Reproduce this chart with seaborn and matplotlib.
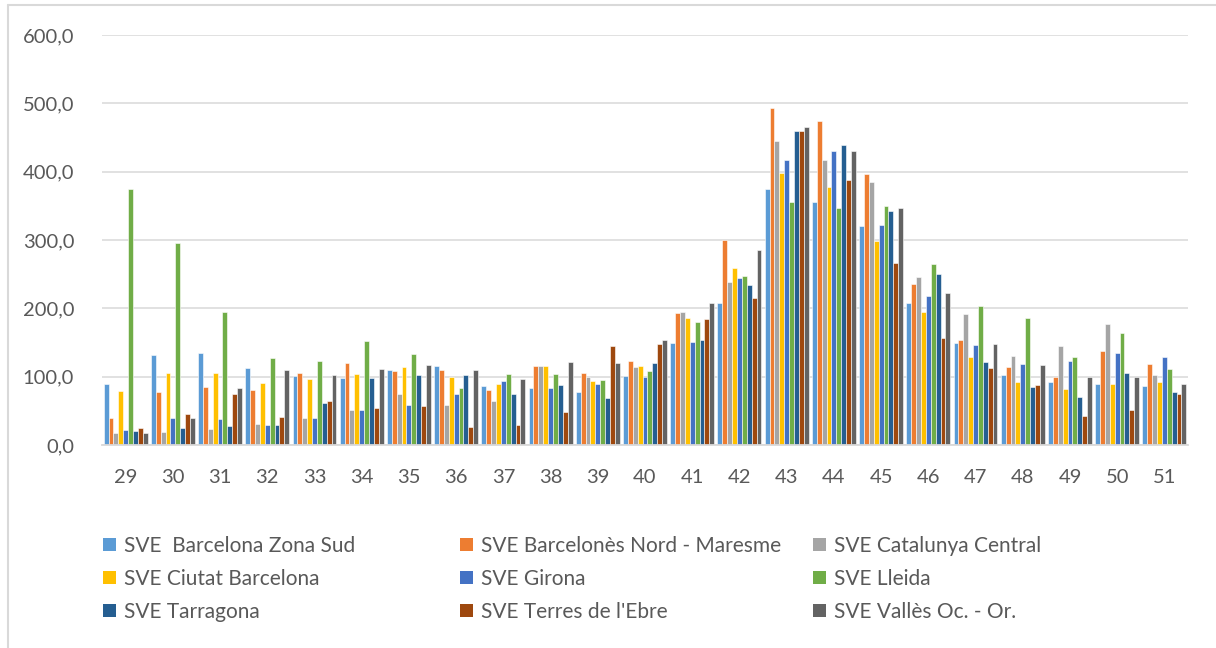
import matplotlib
matplotlib.use("Agg")
import matplotlib.pyplot as plt
import matplotlib.ticker as mticker
from matplotlib.patches import Patch
from matplotlib.lines import Line2D
import seaborn as sns
import pandas as pd

weeks = [29, 30, 31, 32, 33, 34, 35, 36, 37, 38, 39, 40, 41, 42, 43, 44, 45, 46, 47, 48, 49, 50, 51]

series_names = [
    "SVE  Barcelona Zona Sud",
    "SVE Barcelonès Nord - Maresme",
    "SVE Catalunya Central",
    "SVE Ciutat Barcelona",
    "SVE Girona",
    "SVE Lleida",
    "SVE Tarragona",
    "SVE Terres de l'Ebre",
    "SVE Vallès Oc. - Or.",
]

barcelona_zona_sud = [89, 131, 135, 113, 100.5, 98, 109.7, 115, 87, 84, 78, 101, 149, 208, 374, 356, 320, 208, 149, 103, 91.5, 88.6, 86.6]
barcelones_nord = [39.5, 77, 85, 80.5, 106, 119.5, 108, 110, 80.5, 116, 105, 123, 193, 300, 493, 474, 397, 236, 153, 114, 100, 137, 118]
catalunya_central = [18, 19, 24, 31, 39, 51, 74.6, 58.5, 64, 115, 100, 114, 195, 238, 445, 417.5, 385, 246, 191, 130, 145, 177.6, 102]
ciutat_barcelona = [78.5, 106, 106, 91, 96, 104, 114, 100, 90, 116, 93, 115.5, 186, 259, 398.5, 378, 299, 195, 128.5, 91.5, 82, 90, 91.5]
girona = [22.4, 39, 38, 30, 39.5, 51, 59, 74, 94, 84, 89, 100, 151, 245, 417.5, 430.7, 322.6, 217.5, 147, 118, 123.6, 134, 128.5]
lleida = [374.6, 295, 194.6, 128, 123.4, 152, 133.7, 83.4, 104, 104, 95, 108, 180, 248, 355, 347, 350, 265, 204, 186, 128.5, 163.5, 110.5]
tarragona = [20, 24.4, 28, 29, 62, 98, 102, 102, 75, 87.5, 69, 120, 153, 234, 459, 439, 343, 250, 122, 85, 70.6, 106, 78]
terres_ebre = [24.4, 46, 74, 41, 64, 54, 57.6, 26, 30, 49, 145, 147.5, 185, 215.5, 459, 388, 266, 157, 113, 87.6, 43, 50.6, 74.5]
valles = [18, 39, 83, 110, 102, 111, 117, 110, 97, 121, 120, 153, 208, 285.6, 465, 430, 347, 222, 148, 117, 100, 99, 90]

series_values = [barcelona_zona_sud, barcelones_nord, catalunya_central, ciutat_barcelona,
                 girona, lleida, tarragona, terres_ebre, valles]

colors = ["#5B9BD5", "#ED7D31", "#A5A5A5", "#FFC000", "#4472C4",
          "#70AD47", "#255E91", "#9E480E", "#636363"]

rows = []
for name, vals in zip(series_names, series_values):
    for w, v in zip(weeks, vals):
        rows.append({"week": str(w), "series": name, "value": v})
df = pd.DataFrame(rows)

sns.set_theme(style="white")
plt.rcParams["font.family"] = ["Lato", "DejaVu Sans"]
text_color = "#595959"

fig = plt.figure(figsize=(12.16, 6.48), dpi=100)
ax = fig.add_axes([102 / 1216, 1 - 445 / 648, (1188 - 102) / 1216, (445 - 35) / 648])

sns.barplot(data=df, x="week", y="value", hue="series", hue_order=series_names,
            order=[str(w) for w in weeks], palette=colors, width=0.93,
            saturation=1, edgecolor="white", linewidth=0.4, legend=False, ax=ax, errorbar=None)

ax.set_ylim(0, 600)
ax.set_yticks([0, 100, 200, 300, 400, 500, 600])
ax.yaxis.set_major_formatter(mticker.FuncFormatter(lambda v, p: f"{v:.1f}".replace(".", ",")))
ax.grid(axis="y", color="#D9D9D9", linewidth=1.1)
ax.set_axisbelow(True)
for s in ["top", "right", "left"]:
    ax.spines[s].set_visible(False)
ax.spines["bottom"].set_color("#D9D9D9")
ax.spines["bottom"].set_linewidth(1.3)
ax.set_xlabel("")
ax.set_ylabel("")
ax.tick_params(axis="both", length=0, labelsize=14.5, colors=text_color)
ax.tick_params(axis="y", pad=20)
ax.tick_params(axis="x", pad=17)
ax.set_xlim(-0.5, len(weeks) - 0.5)

# legend in three fixed columns (row-major order as in the reference)
col_x = [103 / 1216, 460 / 1216, 813 / 1216]
for c in range(3):
    idx = [c, c + 3, c + 6]
    handles = [Patch(facecolor=colors[i], edgecolor="none") for i in idx]
    labels = [series_names[i] for i in idx]
    leg = fig.legend(handles, labels, loc="upper left", bbox_to_anchor=(col_x[c], 1 - 536 / 648),
                     frameon=False, fontsize=15, handlelength=0.62, handleheight=0.62,
                     handletextpad=0.4, labelspacing=0.62, borderaxespad=0, borderpad=0)
    for t in leg.get_texts():
        t.set_color(text_color)

# outer chart border (left and top visible)
fig.add_artist(Line2D([8 / 1216, 8 / 1216], [0, 1 - 5 / 648], color="#D9D9D9", linewidth=1.5))
fig.add_artist(Line2D([8 / 1216, 1], [1 - 5 / 648, 1 - 5 / 648], color="#D9D9D9", linewidth=1.5))

fig.savefig("out.png", dpi=100, facecolor="white")
